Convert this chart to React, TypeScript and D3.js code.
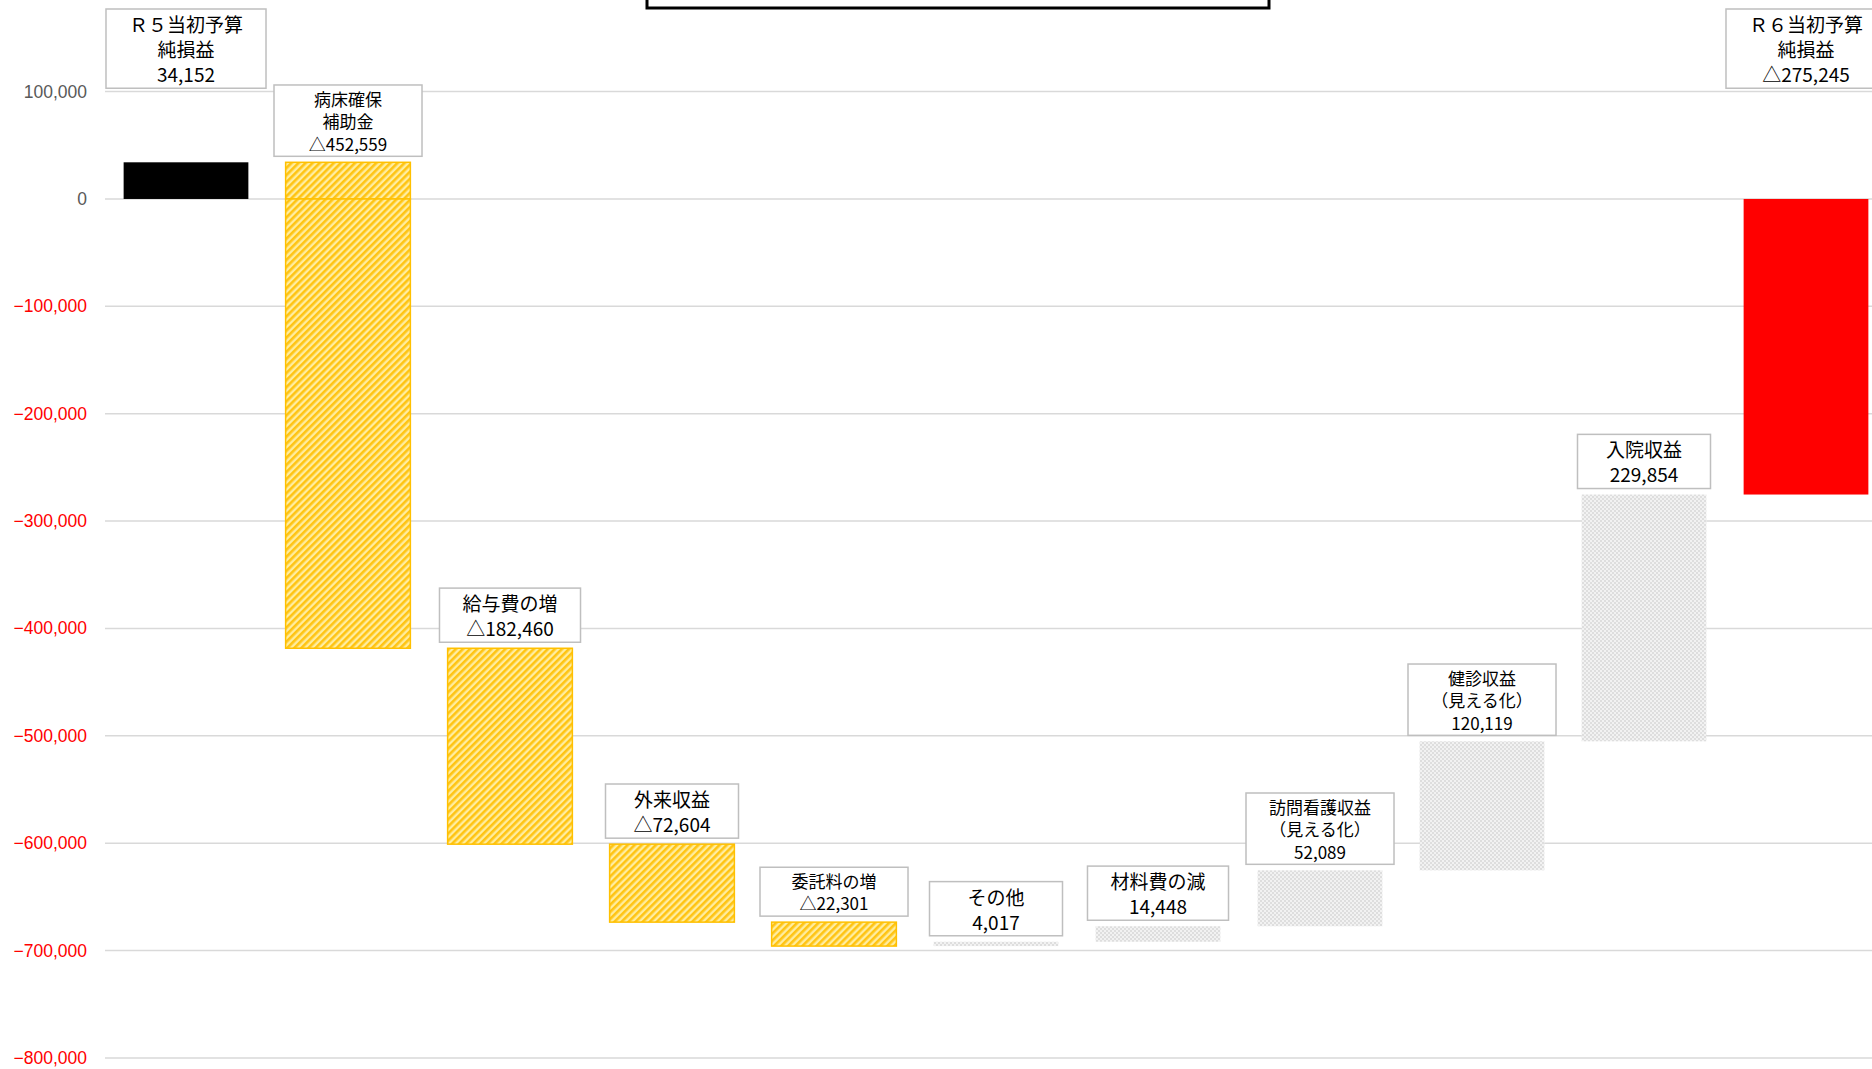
import React, { useEffect, useRef } from "react";
import * as d3 from "d3";

const categories = ["R5純損益", "病床確保補助金", "給与費の増", "外来収益", "委託料の増", "その他", "材料費の減", "訪問看護収益", "健診収益", "入院収益", "R6純損益"];
const labelLines: string[][] = [
  ["Ｒ５当初予算", "純損益"],
  ["病床確保", "補助金"],
  ["給与費の増"],
  ["外来収益"],
  ["委託料の増"],
  ["その他"],
  ["材料費の減"],
  ["訪問看護収益", "（見える化）"],
  ["健診収益", "（見える化）"],
  ["入院収益"],
  ["Ｒ６当初予算", "純損益"],
];
const values = [34152, -452559, -182460, -72604, -22301, 4017, 14448, 52089, 120119, 229854, -275245];
const kinds = ["total", "step", "step", "step", "step", "step", "step", "step", "step", "step", "total"];
const yTicks = [100000, 0, -100000, -200000, -300000, -400000, -500000, -600000, -700000, -800000];
// label text size class (styling only)
const smallLabel = [false, true, false, false, true, false, false, true, true, false, false];

const W = 1872;
const H = 1069;

export default function App() {
  const ref = useRef<SVGSVGElement>(null);

  useEffect(() => {
    const svg = d3.select(ref.current);
    svg.selectAll("*").remove();

    const defs = svg.append("defs");
    const py = defs.append("pattern").attr("id", "pY").attr("patternUnits", "userSpaceOnUse")
      .attr("width", 5).attr("height", 5).attr("patternTransform", "rotate(45)");
    py.append("rect").attr("width", 5).attr("height", 5).attr("fill", "#FFEDA0");
    py.append("rect").attr("width", 2.6).attr("height", 5).attr("fill", "#FFC413");

    const pg = defs.append("pattern").attr("id", "pG").attr("patternUnits", "userSpaceOnUse")
      .attr("width", 4).attr("height", 4);
    pg.append("rect").attr("width", 4).attr("height", 4).attr("fill", "#F2F2F2");
    pg.append("rect").attr("width", 2).attr("height", 2).attr("fill", "#DEDEDE");
    pg.append("rect").attr("x", 2).attr("y", 2).attr("width", 2).attr("height", 2).attr("fill", "#DEDEDE");

    const x = d3.scaleBand<string>().domain(categories).range([105, 1887]).paddingInner(0.23).paddingOuter(0.115);
    const y = d3.scaleLinear().domain([-800000, 100000]).range([1058, 91.6]);

    // title box (cut off at top)
    svg.append("rect").attr("x", 647).attr("y", -40).attr("width", 622).attr("height", 48)
      .attr("fill", "#fff").attr("stroke", "#000").attr("stroke-width", 3);

    // gridlines
    svg.append("g").selectAll("line").data(yTicks).join("line")
      .attr("x1", 105).attr("x2", W).attr("y1", (d) => y(d)).attr("y2", (d) => y(d))
      .attr("stroke", "#D9D9D9").attr("stroke-width", 1.5);

    // y labels
    const fmt = d3.format(",");
    svg.append("g").selectAll("text").data(yTicks).join("text")
      .attr("x", 87).attr("y", (d) => y(d)).attr("text-anchor", "end").attr("dominant-baseline", "central")
      .attr("font-family", "'Liberation Sans', Arial, sans-serif").attr("font-size", 17.5)
      .attr("fill", (d) => (d < 0 ? "#FF0000" : "#595959"))
      .text((d) => fmt(d));

    // waterfall
    let running = 0;
    const bars = values.map((v, i) => {
      let start: number, end: number;
      if (kinds[i] === "total") { start = 0; end = v; running = v; }
      else { start = running; end = running + v; running = end; }
      return { cat: categories[i], v, start, end, kind: kinds[i], i };
    });

    const gb = svg.append("g");
    bars.forEach((b) => {
      let fill: string, stroke: string;
      if (b.kind === "total") { fill = b.v >= 0 ? "#000000" : "#FF0000"; stroke = "none"; }
      else if (b.v < 0) { fill = "url(#pY)"; stroke = "#FFC000"; }
      else { fill = "url(#pG)"; stroke = "none"; }
      const lo = Math.min(b.start, b.end), hi = Math.max(b.start, b.end);
      const segs: [number, number][] = lo < 0 && hi > 0 && b.kind !== "total" ? [[0, hi], [lo, 0]] : [[lo, hi]];
      segs.forEach(([a, c]) => {
        gb.append("rect")
          .attr("x", x(b.cat)!).attr("width", x.bandwidth())
          .attr("y", y(c)).attr("height", y(a) - y(c))
          .attr("fill", fill).attr("stroke", stroke).attr("stroke-width", stroke === "none" ? 0 : 1.5);
      });
    });

    // labels
    const gl = svg.append("g");
    bars.forEach((b) => {
      const small = smallLabel[b.i];
      const fs = small ? 17 : 19;
      const lh = fs * 1.32;
      const numText = b.v < 0 ? "△" + fmt(-b.v) : fmt(b.v);
      const lines = [...labelLines[b.i], numText];
      const boxH = lines.length * lh + 4;
      const cx = x(b.cat)! + x.bandwidth() / 2;
      const top = b.kind === "total" ? 9 : y(Math.max(b.start, b.end)) - 6 - boxH;
      const g = gl.append("g");
      const rect = g.append("rect");
      const t = g.append("text").attr("font-family", "'Noto Sans CJK JP', sans-serif").attr("font-size", fs)
        .attr("fill", "#000").attr("text-anchor", "middle");
      lines.forEach((ln, k) => {
        t.append("tspan").attr("x", cx).attr("y", top + 2 + lh * (k + 0.5)).attr("dominant-baseline", "central").text(ln);
      });
      let tw = 0;
      t.selectAll<SVGTSpanElement, unknown>("tspan").each(function () {
        tw = Math.max(tw, this.getComputedTextLength());
      });
      const bw = Math.max(tw + 46, small ? 148 : 133);
      rect.attr("x", cx - bw / 2).attr("y", top).attr("width", bw).attr("height", boxH)
        .attr("fill", "#fff").attr("stroke", "#BFBFBF").attr("stroke-width", 1.5);
    });
  }, []);

  return (
    <svg ref={ref} width={W} height={H} style={{ position: "absolute", left: 0, top: 0, background: "#fff" }} />
  );
}
